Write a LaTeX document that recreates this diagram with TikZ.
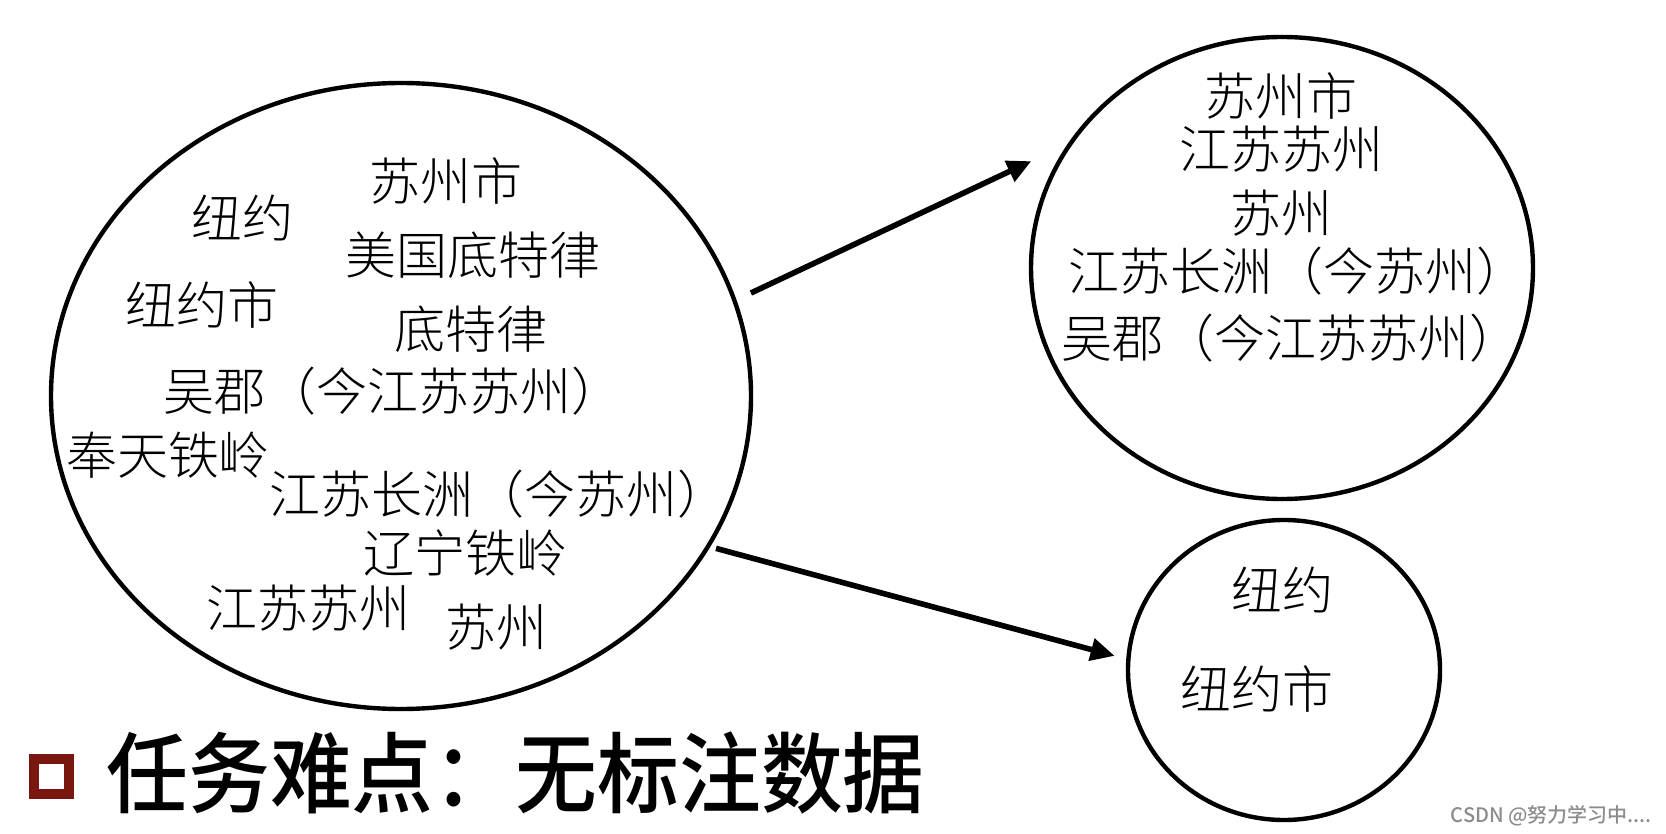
\documentclass[tikz,border=0pt]{standalone}
\usepackage{fontspec}
\usepackage{tikz}
\usetikzlibrary{arrows.meta,shapes.geometric}
\newfontfamily\songti{Noto Sans CJK SC}[UprightFont=* Light]
\newfontfamily\heiti{Noto Sans CJK SC}[UprightFont=* Medium]
\definecolor{boxred}{RGB}{122,22,16}

\begin{document}
\begin{tikzpicture}[x=0.5pt,y=-0.5pt,
  setring/.style={draw,ellipse,line width=2.2pt,inner sep=0pt},
  word/.style={font=\songti\fontsize{25.5}{26}\selectfont,inner sep=0pt},
  link/.style={-{Triangle[length=12pt,width=11pt]},line width=2.8pt},
  headline/.style={font=\heiti\fontsize{44}{44}\selectfont,inner sep=0pt,anchor=west}]
\useasboundingbox (0,0) rectangle (1666,834);
% the three sets
\node[setring,minimum width=350pt,minimum height=313pt] (mixed) at (401,396) {};
\node[setring,minimum width=251pt,minimum height=231pt] (suzhou) at (1282,268) {};
\node[setring,minimum width=156pt,minimum height=150pt] (newyork) at (1284,670) {};
% names before grouping
\node[word] (m1) at (446,181) {苏州市};
\node[word] (m2) at (242,218) {纽约};
\node[word] (m3) at (473,255) {美国底特律};
\node[word] (m4) at (202,305) {纽约市};
\node[word] (m5) at (471,329) {底特律};
\node[word] (m6) at (393,391) {吴郡（今江苏苏州）};
\node[word] (m7) at (168,455) {奉天铁岭};
\node[word] (m8) at (499,494) {江苏长洲（今苏州）};
\node[word] (m9) at (465,553) {辽宁铁岭};
\node[word] (m10) at (308,608) {江苏苏州};
\node[word] (m11) at (496,627) {苏州};
% grouped: Suzhou
\node[word] (s1) at (1281,96) {苏州市};
\node[word] (s2) at (1281,149) {江苏苏州};
\node[word] (s3) at (1281,213) {苏州};
\node[word] (s4) at (1298,271) {江苏长洲（今苏州）};
\node[word] (s5) at (1291,338) {吴郡（今江苏苏州）};
% grouped: New York
\node[word] (n1) at (1282,590) {纽约};
\node[word] (n2) at (1257,689) {纽约市};
% arrows
\draw[link,shorten <=8pt,shorten >=20pt] (mixed.16) -- (suzhou.150);
\draw[link,shorten <=3pt,shorten >=6pt] (mixed.-26) -- (newyork.176);
% title line
\node[draw=boxred,line width=5pt,minimum size=17.5pt,inner sep=0pt] (bullet) at (51.5,776.5) {};
\node[headline] (title) at (106,773) {\scalebox{0.93}[1]{任务难点：无标注数据}};
\node[font=\heiti\fontsize{10}{10}\selectfont,text=black!45,inner sep=0pt,anchor=east] (wm) at (1652,816) {CSDN @努力学习中....};
\end{tikzpicture}
\end{document}
